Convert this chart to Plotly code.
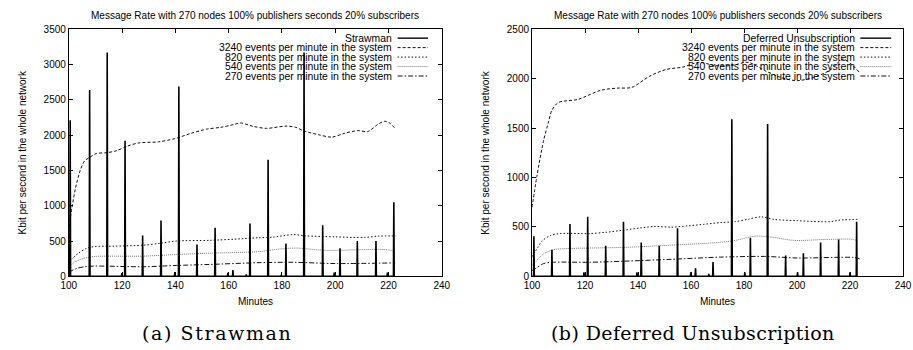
import plotly.graph_objects as go

# ---------------- data ----------------
TITLE = "Message Rate with 270 nodes 100% publishers seconds 20% subscribers"
Y_TITLE = "Kbit per second in the whole network"
X_TITLE = "Minutes"
CAPTIONS = ["(a) Strawman", "(b) Deferred Unsubscription"]
SPIKE_NAMES = ["Strawman", "Deferred Unsubscription"]
RATE_NAMES = [
    "3240 events per minute in the system",
    "820 events per minute in the system",
    "540 events per minute in the system",
    "270 events per minute in the system",
]

# Strawman spikes (minutes, kbit/s)
straw_spike_t = [100.5, 107.8, 114.4, 119.9, 121.1, 127.7, 134.6, 139.8, 141.3, 148.1,
                 154.9, 159.7, 161.6, 166.6, 168.0, 174.8, 179.7, 181.5, 188.3, 195.3,
                 199.6, 201.8, 208.3, 215.3, 219.6, 222.0]
straw_spike_h = [2210, 2640, 3170, 45, 1920, 580, 790, 60, 2690, 450,
                 690, 50, 90, 30, 750, 1650, 20, 465, 3170, 725,
                 55, 400, 500, 500, 55, 1050]

# Deferred Unsubscription spikes
def_spike_t = [100.7, 107.5, 114.3, 119.6, 121.0, 127.8, 134.5, 139.6, 141.2, 148.0,
               154.9, 159.9, 161.7, 166.7, 168.3, 175.4, 180.3, 182.4, 188.9, 195.7,
               200.2, 202.4, 208.9, 215.7, 220.0, 222.5]
def_spike_h = [407, 270, 530, 40, 602, 309, 553, 40, 342, 309,
               488, 40, 81, 25, 146, 1590, 40, 390, 1540, 212,
               40, 234, 342, 374, 40, 553]

# Left panel smooth rate curves
L3240_x = [100, 101.2, 102.5, 104.3, 106, 107.9, 110.3, 114, 117.7, 122, 126.3, 133.7, 139.8,
           146, 152, 157, 161.9, 164.4, 169.3, 174.2, 181.5, 185.2, 188.3, 193.8, 198.7,
           203.6, 208.5, 212.2, 215.9, 218.4, 220.5, 222.7]
L3240_y = [700, 980, 1250, 1504, 1640, 1686, 1740, 1750, 1777, 1845, 1890, 1905, 1950,
           2027, 2087, 2110, 2150, 2173, 2123, 2096, 2128, 2110, 2059, 2005, 1972,
           2027, 2064, 2050, 2150, 2196, 2170, 2082]
L820_x = [100, 101.2, 103.6, 106.6, 109.7, 117, 128, 134.3, 140.4, 152.7, 165, 171, 176.7,
          184.1, 189, 200, 211, 215.9, 222.7]
L820_y = [200, 250, 328, 396, 423, 428, 442, 469, 501, 510, 533, 547, 556,
          592, 574, 560, 551, 569, 574]
L540_x = [100, 102.3, 106, 109.7, 128, 140.4, 152.7, 171, 179, 185.2, 196.3, 215.9, 220, 222.5]
L540_y = [130, 205, 260, 282, 287, 310, 328, 350, 387, 401, 369, 383, 375, 355]
L270_x = [100, 103, 106, 109.7, 128, 140.4, 152.7, 171, 184.1, 200, 222.5]
L270_y = [60, 114, 137, 146, 137, 155, 169, 194, 200, 182, 191]

# Right panel smooth rate curves
R3240_x = [100, 101.8, 104.3, 106.2, 107.5, 109.9, 117.3, 125.9, 132.1, 137.6, 144.4, 150.6,
           156.8, 162.9, 169.1, 175.3, 181.5, 187.7, 193.8, 200, 206.2, 212.3, 217.3,
           220.4, 223.4]
R3240_y = [700, 1009, 1367, 1562, 1680, 1758, 1790, 1882, 1904, 1911, 2025, 2093,
           2116, 2165, 2132, 2132, 2165, 2083, 2012, 1979, 2012, 2083, 2197,
           2148, 2067]
R820_x = [100, 101.4, 103.8, 106.9, 110.6, 121.7, 127.9, 134.1, 140.3, 146.4, 152.6, 158.8,
          164.9, 171.1, 176.7, 181.6, 186.5, 191.5, 200.1, 212.5, 216.2, 223.6]
R820_y = [200, 260, 358, 413, 433, 433, 446, 466, 488, 505, 498, 511,
          527, 544, 553, 579, 602, 576, 563, 553, 570, 576]
R540_x = [100, 101.4, 104.4, 108.1, 115.5, 134.1, 152.6, 171.1, 176.7, 184.1, 190.3, 198.9,
          211.2, 221.1, 222.9]
R540_y = [110, 150, 228, 270, 283, 293, 316, 345, 364, 407, 397, 364,
          374, 374, 358]
R270_x = [100, 101.4, 104.4, 108.1, 121.7, 134.1, 152.6, 171.1, 187.8, 200.1, 221.1, 223.6]
R270_y = [60, 81, 130, 143, 143, 153, 173, 195, 202, 186, 192, 179]

Y_MAX = [3500, 2500]
X_RANGE = [100, 240]

# ---------------- styles ----------------
W, H = 913, 350
FONT = "Liberation Sans"
RATE_STYLES = [
    dict(color="#111111", width=1, dash="3px,2px"),
    dict(color="#111111", width=1, dash="1.5px,2px"),
    dict(color="#777777", width=1, dash="1px,1px"),
    dict(color="#111111", width=1, dash="5px,2px,1.5px,2px"),
]
SPIKE_STYLE = dict(color="black", width=1.6)
SPIKE_HALF = 0.15
CAPTION_SPACING = ["1.6px", "0.4px"]


def px_x(p):
    return p / W


def px_y(p):
    return 1 - p / H


def spike_path(ts, hs):
    xs, ys = [X_RANGE[0]], [0]
    for t, h in zip(ts, hs):
        xs += [t - SPIKE_HALF, t, t + SPIKE_HALF]
        ys += [0, h, 0]
    return xs, ys


panels = [
    dict(spk=(straw_spike_t, straw_spike_h),
         curves=[(L3240_x, L3240_y), (L820_x, L820_y), (L540_x, L540_y), (L270_x, L270_y)],
         xdom=(62, 442), legend_right=393.5, sample=(397, 428), cap_center=213),
    dict(spk=(def_spike_t, def_spike_h),
         curves=[(R3240_x, R3240_y), (R820_x, R820_y), (R540_x, R540_y), (R270_x, R270_y)],
         xdom=(534, 912), legend_right=865, sample=(868.5, 900), cap_center=698),
]

fig = go.Figure()
annotations = []
shapes = []
Y_TOP, Y_BOT = 24, 280
LEG_ROWS = [33.3, 43.1, 52.9, 62.7, 72.5]

for i, p in enumerate(panels):
    xa = "x" if i == 0 else "x2"
    ya = "y" if i == 0 else "y2"
    for (cx, cy), st, nm in zip(p["curves"], RATE_STYLES, RATE_NAMES):
        fig.add_trace(go.Scatter(x=cx, y=cy, mode="lines", name=nm, xaxis=xa, yaxis=ya,
                                 line=dict(shape="spline", smoothing=0.8, **st),
                                 showlegend=False, hoverinfo="skip"))
    sx, sy = spike_path(*p["spk"])
    fig.add_trace(go.Scatter(x=sx, y=sy, mode="lines", name=SPIKE_NAMES[i], xaxis=xa, yaxis=ya,
                             line=SPIKE_STYLE, showlegend=False, hoverinfo="skip"))

    axis_common = dict(showline=True, linecolor="black", linewidth=1, mirror="allticks",
                       ticks="inside", ticklen=4, tickcolor="black", showgrid=False,
                       zeroline=False, ticklabeloverflow="allow",
                       tickfont=dict(family=FONT, size=10, color="black"))
    xd = [px_x(p["xdom"][0]), px_x(p["xdom"][1])]
    yd = [px_y(Y_BOT), px_y(Y_TOP)]
    fig.update_layout(**{
        ("xaxis" if i == 0 else "xaxis2"): dict(domain=xd, range=X_RANGE, dtick=20,
                                                 anchor=ya, **axis_common),
        ("yaxis" if i == 0 else "yaxis2"): dict(domain=yd, range=[0, Y_MAX[i]], dtick=500,
                                                 anchor=xa, **axis_common),
    })
    cx_mid = (p["xdom"][0] + p["xdom"][1]) / 2
    annotations.append(dict(text=TITLE, x=px_x(cx_mid), y=px_y(9.5), xref="paper", yref="paper",
                            showarrow=False, xanchor="center", yanchor="middle",
                            font=dict(family=FONT, size=10, color="black")))
    annotations.append(dict(text=X_TITLE, x=px_x(cx_mid), y=px_y(306), xref="paper", yref="paper",
                            showarrow=False, xanchor="center", yanchor="middle",
                            font=dict(family=FONT, size=10, color="black")))
    annotations.append(dict(text=Y_TITLE, x=px_x(p["xdom"][0] - 47), y=px_y((Y_TOP + Y_BOT) / 2),
                            xref="paper", yref="paper", textangle=-90,
                            showarrow=False, xanchor="center", yanchor="middle",
                            font=dict(family=FONT, size=10, color="black")))
    annotations.append(dict(text=f'<span style="letter-spacing:{CAPTION_SPACING[i]}">{CAPTIONS[i]}</span>',
                            x=px_x(p["cap_center"]), y=px_y(339),
                            xref="paper", yref="paper", showarrow=False,
                            xanchor="center", yanchor="middle",
                            font=dict(family="DejaVu Serif", size=19, color="black")))
    names = [SPIKE_NAMES[i]] + RATE_NAMES
    styles = [dict(color="black", width=1.4)] + RATE_STYLES
    for row, nm, st in zip(LEG_ROWS, names, styles):
        annotations.append(dict(text=nm, x=px_x(p["legend_right"]), y=px_y(row),
                                xref="paper", yref="paper", showarrow=False,
                                xanchor="right", yanchor="middle",
                                font=dict(family=FONT, size=10.4, color="black")))
        shapes.append(dict(type="line", xref="paper", yref="paper",
                           x0=px_x(p["sample"][0]), x1=px_x(p["sample"][1]),
                           y0=px_y(row), y1=px_y(row), line=st))

fig.update_layout(width=W, height=H, margin=dict(l=0, r=0, t=0, b=0),
                  paper_bgcolor="white", plot_bgcolor="white",
                  annotations=annotations, shapes=shapes, showlegend=False)

fig.write_html("out.html", config={"displayModeBar": False},
               post_script="document.body.style.margin='0';document.body.style.overflow='hidden';")
